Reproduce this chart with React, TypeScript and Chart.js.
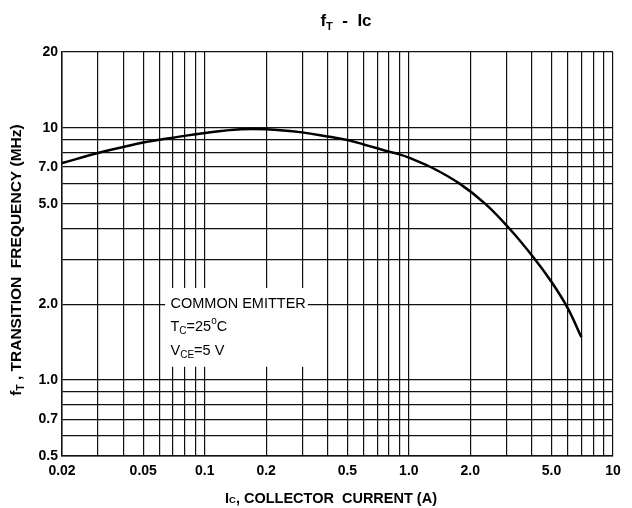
import React, { useEffect, useRef } from 'react';
import { Chart, registerables } from 'chart.js';

Chart.register(...registerables);

// Collector current (A) and transition frequency (MHz)
const currentA = [0.02, 0.03, 0.04, 0.05, 0.07, 0.1, 0.15, 0.2, 0.3, 0.4, 0.5, 0.6, 0.7, 0.8, 0.9, 1.0, 1.3, 1.78, 2.37, 3.1, 4.1, 5.0, 6.0, 7.0];
const freqMHz = [7.25, 7.95, 8.4, 8.75, 9.15, 9.55, 9.88, 9.88, 9.6, 9.25, 8.95, 8.6, 8.3, 8.05, 7.85, 7.62, 6.95, 6.0, 5.0, 4.0, 3.05, 2.45, 1.93, 1.48];

const xTickValues = [0.02, 0.03, 0.04, 0.05, 0.06, 0.07, 0.08, 0.09, 0.1, 0.2, 0.3, 0.4, 0.5, 0.6, 0.7, 0.8, 0.9, 1, 2, 3, 4, 5, 6, 7, 8, 9, 10];
const xTickLabels = ['0.02', '', '', '0.05', '', '', '', '', '0.1', '0.2', '', '', '0.5', '', '', '', '', '1.0', '2.0', '', '', '5.0', '', '', '', '', '10'];
const yTickValues = [0.5, 0.6, 0.7, 0.8, 0.9, 1, 2, 3, 4, 5, 6, 7, 8, 9, 10, 20];
const yTickLabels = ['0.5', '', '0.7', '', '', '1.0', '2.0', '', '', '5.0', '', '7.0', '', '', '10', '20'];

// Annotation box extent in data units (Ic range, fT range) and text line positions
const noteBoxIc = [0.064, 0.32];
const noteBoxFt = [1.13, 2.32];
const noteTextIc = 0.068;
const noteLinesFt = [2.0, 1.62, 1.3];

const FONT = '"Liberation Sans", Arial, Helvetica, sans-serif';

type Run = [string, string, number];

function runsWidth(ctx: CanvasRenderingContext2D, runs: Run[]) {
  let w = 0;
  for (const [t, f] of runs) {
    ctx.font = f;
    w += ctx.measureText(t).width;
  }
  return w;
}

function drawRuns(ctx: CanvasRenderingContext2D, x: number, y: number, runs: Run[]) {
  let cx = x;
  for (const [t, f, dy] of runs) {
    ctx.font = f;
    ctx.fillText(t, cx, y + dy);
    cx += ctx.measureText(t).width;
  }
}

const notePlugin = {
  id: 'notes',
  beforeDatasetsDraw(chart: any) {
    const { ctx, scales } = chart;
    const x = scales.x;
    const y = scales.y;
    const x0 = x.getPixelForValue(noteBoxIc[0]);
    const x1 = x.getPixelForValue(noteBoxIc[1]);
    const y0 = y.getPixelForValue(noteBoxFt[1]);
    const y1 = y.getPixelForValue(noteBoxFt[0]);
    ctx.save();
    ctx.fillStyle = '#fff';
    ctx.fillRect(x0, y0, x1 - x0, y1 - y0);
    ctx.fillStyle = '#000';
    ctx.textBaseline = 'middle';
    ctx.textAlign = 'left';
    const tx = x.getPixelForValue(noteTextIc);
    const big = `14.5px ${FONT}`;
    const sub = `10px ${FONT}`;
    drawRuns(ctx, tx, y.getPixelForValue(noteLinesFt[0]), [['COMMON EMITTER', big, 0]]);
    drawRuns(ctx, tx, y.getPixelForValue(noteLinesFt[1]), [
      ['T', big, 0],
      ['C', sub, 4],
      ['=25', big, 0],
      ['o', sub, -6],
      ['C', big, 0],
    ]);
    drawRuns(ctx, tx, y.getPixelForValue(noteLinesFt[2]), [
      ['V', big, 0],
      ['CE', sub, 4],
      ['=5 V', big, 0],
    ]);
    ctx.restore();
  },
  afterDraw(chart: any) {
    const { ctx } = chart;
    ctx.save();
    ctx.fillStyle = '#000';
    ctx.textBaseline = 'alphabetic';
    ctx.textAlign = 'left';

    // Chart title
    const tBig = `bold 17px ${FONT}`;
    const tSub = `bold 11px ${FONT}`;
    const titleRuns: Run[] = [
      ['f', tBig, 0],
      ['T', tSub, 4],
      ['  -  Ic', tBig, 0],
    ];
    const tw = runsWidth(ctx, titleRuns);
    drawRuns(ctx, 346 - tw / 2, 26, titleRuns);

    // X axis title
    const xBig = `bold 14.5px ${FONT}`;
    const xSub = `bold 9.5px ${FONT}`;
    const xRuns: Run[] = [
      ['I', xBig, 0],
      ['C', xSub, 0],
      [', COLLECTOR  CURRENT (A)', xBig, 0],
    ];
    const xw = runsWidth(ctx, xRuns);
    drawRuns(ctx, 331 - xw / 2, 503, xRuns);

    // Y axis title (rotated)
    const yBig = `bold 15.5px ${FONT}`;
    const ySub = `bold 10px ${FONT}`;
    const yRuns: Run[] = [
      ['f', yBig, 0],
      ['T', ySub, 3],
      [' , TRANSITION  FREQUENCY (MHz)', yBig, 0],
    ];
    const yw = runsWidth(ctx, yRuns);
    ctx.translate(21, 260);
    ctx.rotate(-Math.PI / 2);
    drawRuns(ctx, -yw / 2, 0, yRuns);
    ctx.restore();
  },
};

export default function App() {
  const ref = useRef<HTMLCanvasElement>(null);

  useEffect(() => {
    document.body.style.margin = '0';
    const canvas = ref.current;
    if (!canvas) return;
    const tickFont = { family: FONT, size: 14, weight: 'bold' as const };
    const chart = new Chart(canvas, {
      type: 'line',
      data: {
        datasets: [
          {
            data: currentA.map((v, i) => ({ x: v, y: freqMHz[i] })),
            borderColor: '#000',
            borderWidth: 2.5,
            pointRadius: 0,
            fill: false,
            tension: 0.4,
          },
        ],
      },
      options: {
        responsive: false,
        animation: false,
        devicePixelRatio: 1,
        layout: { padding: { top: 52, right: 19, left: 0, bottom: 0 } },
        plugins: {
          legend: { display: false },
          tooltip: { enabled: false },
          title: { display: false },
        },
        scales: {
          x: {
            type: 'logarithmic',
            min: 0.02,
            max: 10,
            afterBuildTicks: (s: any) => {
              s.ticks = xTickValues.map((v) => ({ value: v }));
            },
            afterFit: (s: any) => {
              s.height = 52;
            },
            grid: { color: '#111', lineWidth: 1.2, drawTicks: false },
            border: { color: '#111', width: 1.5 },
            ticks: {
              autoSkip: false,
              maxRotation: 0,
              minRotation: 0,
              padding: 7,
              color: '#000',
              font: tickFont,
              callback: (_v: any, i: number) => xTickLabels[i],
            },
          },
          y: {
            type: 'logarithmic',
            min: 0.5,
            max: 20,
            afterBuildTicks: (s: any) => {
              s.ticks = yTickValues.map((v) => ({ value: v }));
            },
            afterFit: (s: any) => {
              s.width = 62;
            },
            grid: { color: '#111', lineWidth: 1.2, drawTicks: false },
            border: { color: '#111', width: 1.5 },
            ticks: {
              autoSkip: false,
              padding: 4,
              color: '#000',
              font: tickFont,
              callback: (_v: any, i: number) => yTickLabels[i],
            },
          },
        },
      },
      plugins: [notePlugin],
    } as any);
    return () => chart.destroy();
  }, []);

  return <canvas ref={ref} width={632} height={508} style={{ display: 'block' }} />;
}
